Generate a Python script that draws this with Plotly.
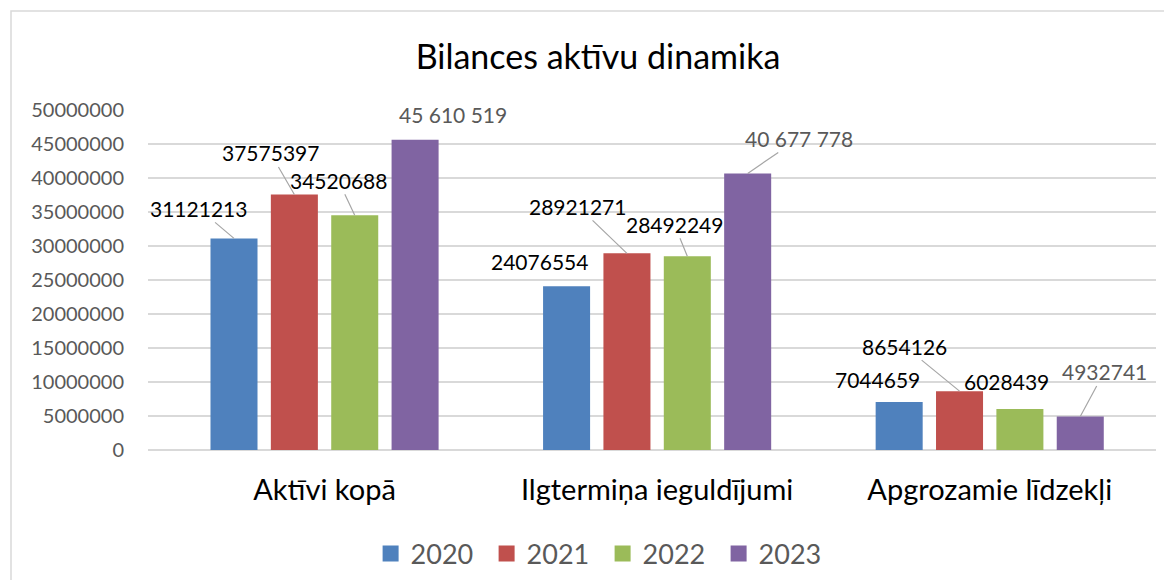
import plotly.graph_objects as go

categories = ["Aktīvi kopā", "Ilgtermiņa ieguldījumi", "Apgrozamie līdzekļi"]
years = ["2020", "2021", "2022", "2023"]
v2020 = [31121213, 24076554, 7044659]
v2021 = [37575397, 28921271, 8654126]
v2022 = [34520688, 28492249, 6028439]
v2023 = [45610519, 40677778, 4932741]
labels2020 = ["31121213", "24076554", "7044659"]
labels2021 = ["37575397", "28921271", "8654126"]
labels2022 = ["34520688", "28492249", "6028439"]
labels2023 = ["45 610 519", "40 677 778", "4932741"]
tick_vals = [0, 5000000, 10000000, 15000000, 20000000, 25000000,
             30000000, 35000000, 40000000, 45000000, 50000000]
tick_text = [str(v) for v in tick_vals]

series_values = [v2020, v2021, v2022, v2023]
series_labels = [labels2020, labels2021, labels2022, labels2023]
colors = ["#4F81BD", "#C0504D", "#9BBB59", "#8064A2"]
label_colors = ["#000000", "#000000", "#000000", "#595959"]

# label placement (pixel offsets of label centre from bar top, leader line flag)
offsets = [
    [(-35.5, -30, True), (-27, -25, False), (-22, -23, False)],
    [(-24, -41.5, True), (-49, -47, True), (-55, -45, True)],
    [(-16.5, -35, True), (-13, -32, True), (-13.5, -28, False)],
    [(38, -25, False), (51, -35, True), (24, -44.5, True)],
]

FONT = "Lato"
bargap = 0.274
bargroupgap = 0.221
W, H = 1156, 572

fig = go.Figure()
for name, vals, col in zip(years, series_values, colors):
    fig.add_trace(go.Bar(x=categories, y=vals, name=name, showlegend=False,
                         marker=dict(color=col, line=dict(width=0))))
# legend entries with larger square symbols
for name, col in zip(years, colors):
    fig.add_trace(go.Scatter(x=[None], y=[None], name=name, mode="markers",
                             marker=dict(symbol="square", size=18, color=col),
                             showlegend=True))

slot = (1 - bargap) / len(years)
annotations = []
for si, (vals, labs) in enumerate(zip(series_values, series_labels)):
    for ci, (v, lab) in enumerate(zip(vals, labs)):
        dx, dy, leader = offsets[si][ci]
        xpos = ci + (si - 1.5) * slot
        base = dict(x=xpos, y=v, xref="x", yref="y", text=lab,
                    font=dict(family=FONT, size=21, color=label_colors[si]))
        if leader:
            base.update(showarrow=True, ax=dx, ay=dy, axref="pixel", ayref="pixel",
                        arrowhead=0, arrowwidth=1.2, arrowcolor="#a6a6a6",
                        standoff=0, startstandoff=0)
        else:
            base.update(showarrow=False, xshift=dx, yshift=-dy,
                        xanchor="center", yanchor="middle")
        annotations.append(base)

fig.update_layout(
    width=W, height=H,
    margin=dict(l=140, r=8, t=102, b=130, autoexpand=False),
    paper_bgcolor="white", plot_bgcolor="white",
    barmode="group", bargap=bargap, bargroupgap=bargroupgap,
    title=dict(text="Bilances aktīvu dinamika", x=590 / W, xanchor="center",
               y=1 - 49 / H, yanchor="middle",
               font=dict(family=FONT, size=34, color="#000000")),
    font=dict(family=FONT),
    showlegend=True,
    legend=dict(orientation="h", x=0.451, xanchor="center", y=-0.306,
                yanchor="middle", font=dict(family=FONT, size=27, color="#595959"),
                entrywidth=71, entrywidthmode="pixels", itemwidth=30,
                itemsizing="trace", bgcolor="rgba(0,0,0,0)"),
    annotations=annotations,
    shapes=[dict(type="rect", xref="paper", yref="paper",
                 x0=(11 - 148) / 1008, x1=1.2, y0=-0.6, y1=(450 - 11) / 340,
                 line=dict(color="#d9d9d9", width=1.5), fillcolor="rgba(0,0,0,0)",
                 layer="below")],
)
fig.update_xaxes(type="category", showgrid=False, showline=False, ticks="",
                 ticklabelstandoff=20,
                 tickfont=dict(family=FONT, size=29, color="#000000"))
fig.update_yaxes(range=[0, 50000000], tickvals=tick_vals, ticktext=tick_text,
                 showgrid=True, gridcolor="#d9d9d9", gridwidth=1.5,
                 zeroline=True, zerolinecolor="#d9d9d9", zerolinewidth=1.5,
                 showline=False, ticks="", ticklabelstandoff=23,
                 tickfont=dict(family=FONT, size=20, color="#595959"))

fig.write_html("out.html")
